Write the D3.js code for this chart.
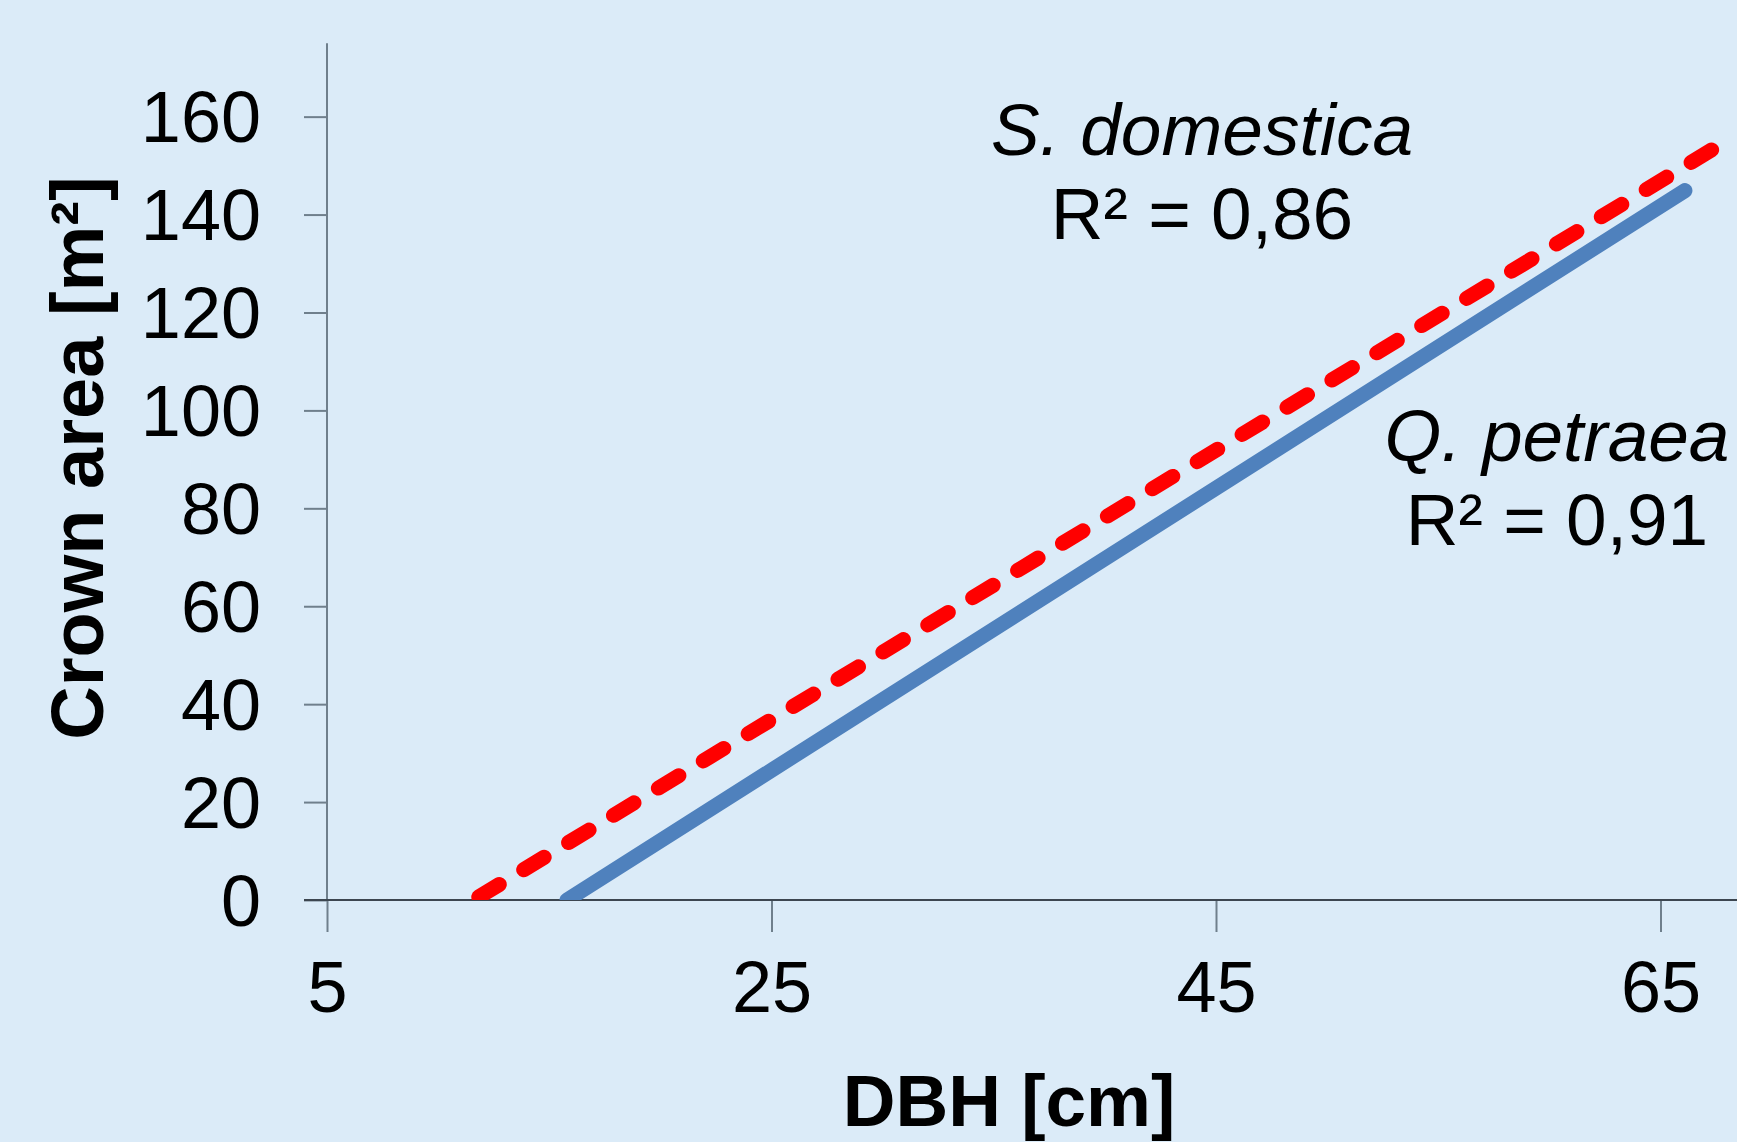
<!DOCTYPE html>
<html>
<head>
<meta charset="utf-8">
<script src="https://cdn.jsdelivr.net/npm/d3@7"></script>
<style>
  body { margin: 0; background: #dbebf8; }
  svg { display: block; }
  text { font-family: "Liberation Sans", Arial, sans-serif; fill: #000; }
</style>
</head>
<body>
<svg></svg>
<script>
// trendline end points [DBH, crown area]
const quercus = [[15.8, 0], [66.1, 144.9]];
const sorbus = [[11.6, 0], [67.3, 153.2]];
const yTicks = [0, 20, 40, 60, 80, 100, 120, 140, 160];
const xTicks = [5, 25, 45, 65];
const labels = [
    {name: 'S. domestica', r2: 'R² = 0,86', x: 1202, y: 155},
    {name: 'Q. petraea', r2: 'R² = 0,91', x: 1557, y: 461}
];

let width = 1737, height = 1142;
let svg = d3.select('svg').attr('width', width).attr('height', height);

svg.append('rect').attr('width', width).attr('height', height).attr('fill', '#dbebf8');

let x = d3.scaleLinear().domain([5, 65]).range([327, 1660.5]),
    y = d3.scaleLinear().domain([0, 175]).range([900, 43.2]);

// axes
let yAxis = svg.append('g')
    .attr('transform', `translate(${x(5)},0)`)
    .call(d3.axisLeft(y).tickValues(yTicks).tickSize(23).tickPadding(43).tickSizeOuter(0));
yAxis.select('.domain').remove();
yAxis.selectAll('line').attr('stroke', '#6f7f8c').attr('stroke-width', 2);
yAxis.selectAll('text').attr('font-size', 72).attr('font-family', '"Liberation Sans", Arial, sans-serif').attr('dy', '0.35em');

let xAxis = svg.append('g')
    .attr('transform', `translate(0,${y(0)})`)
    .call(d3.axisBottom(x).tickValues(xTicks).tickSize(32).tickPadding(29).tickSizeOuter(0));
xAxis.select('.domain').remove();
xAxis.selectAll('line').attr('stroke', '#6f7f8c').attr('stroke-width', 2);
xAxis.selectAll('text').attr('font-size', 72).attr('font-family', '"Liberation Sans", Arial, sans-serif');

svg.append('line')
    .attr('x1', x(5)).attr('x2', x(5))
    .attr('y1', y(175)).attr('y2', y(0))
    .attr('stroke', '#6f7f8c').attr('stroke-width', 2);
svg.append('line')
    .attr('x1', x(5) - 23).attr('x2', width)
    .attr('y1', y(0)).attr('y2', y(0))
    .attr('stroke', '#3c4650').attr('stroke-width', 2);

// trend lines
svg.append('clipPath').attr('id', 'plot')
    .append('rect').attr('x', x(5)).attr('y', 0).attr('width', width - x(5)).attr('height', y(0));

let line = d3.line().x(d => x(d[0])).y(d => y(d[1]));

svg.append('path')
    .datum(quercus)
    .attr('clip-path', 'url(#plot)')
    .attr('d', line)
    .attr('fill', 'none')
    .attr('stroke', '#4f81bd')
    .attr('stroke-width', 15)
    .attr('stroke-linecap', 'round');

// dashes counted from the upper end so the line finishes on a dash
svg.append('path')
    .datum(sorbus.slice().reverse())
    .attr('clip-path', 'url(#plot)')
    .attr('d', line)
    .attr('fill', 'none')
    .attr('stroke', '#ff0000')
    .attr('stroke-width', 15)
    .attr('stroke-linecap', 'round')
    .attr('stroke-dasharray', '24 28.5');

// species labels
labels.forEach(l => {
    let t = svg.append('text').attr('text-anchor', 'middle').attr('font-size', 73);
    t.append('tspan').attr('x', l.x).attr('y', l.y).attr('font-style', 'italic').text(l.name);
    t.append('tspan').attr('x', l.x).attr('y', l.y + 84).text(l.r2);
});

// axis titles
svg.append('text')
    .attr('x', 1009).attr('y', 1126)
    .attr('text-anchor', 'middle')
    .attr('font-size', 73).attr('font-weight', 'bold')
    .text('DBH [cm]');

svg.append('text')
    .attr('transform', 'translate(103,458) rotate(-90)')
    .attr('text-anchor', 'middle')
    .attr('font-size', 74).attr('font-weight', 'bold')
    .text('Crown area [m²]');
</script>
</body>
</html>
